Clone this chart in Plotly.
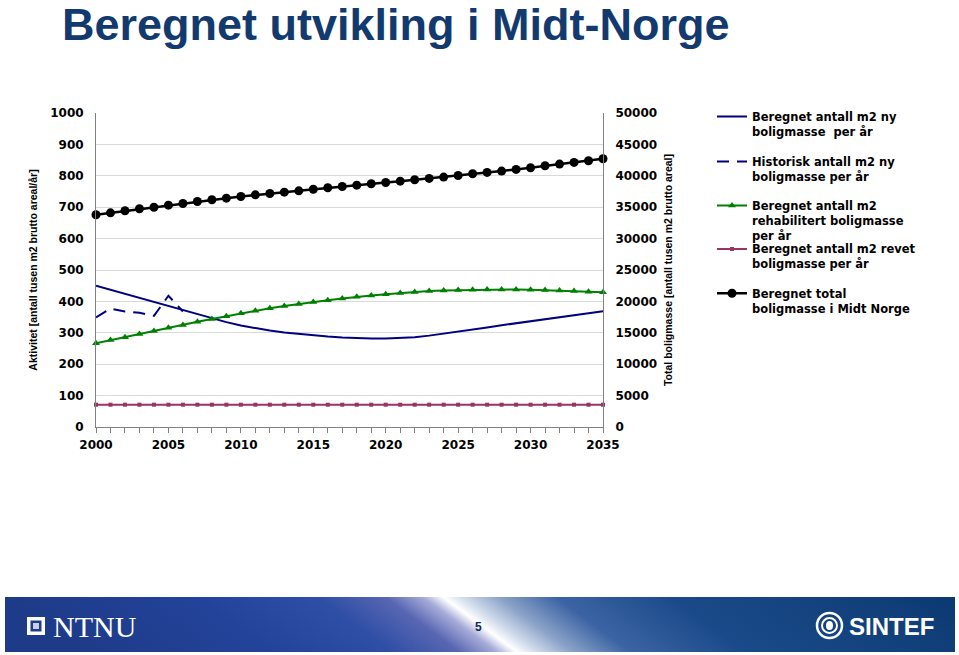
import base64
import plotly.graph_objects as go

# ---------------- data ----------------
years = [2000, 2001, 2002, 2003, 2004, 2005, 2006, 2007, 2008, 2009,
         2010, 2011, 2012, 2013, 2014, 2015, 2016, 2017, 2018, 2019,
         2020, 2021, 2022, 2023, 2024, 2025, 2026, 2027, 2028, 2029,
         2030, 2031, 2032, 2033, 2034, 2035]

beregnet_ny = [450, 437, 424, 410, 397, 384, 371, 358, 346, 334,
               323, 314, 307, 301, 296, 292, 288, 285, 283, 282,
               282, 283, 286, 291, 297, 303, 310, 317, 324, 330,
               336, 343, 349, 355, 362, 369]

hist_years = [2000, 2001, 2002, 2003, 2004, 2005, 2006]
historisk_ny = [349, 377, 368, 364, 354, 418, 368]

rehabilitert = [267, 277, 286, 296, 306, 316, 325, 335, 344, 353,
                362, 370, 378, 385, 392, 398, 404, 409, 415, 419,
                423, 427, 430, 433, 435, 436, 437, 438, 438, 438,
                437, 436, 435, 433, 431, 429]

revet = [71, 71, 71, 71, 71, 71, 71, 71, 71, 71,
         71, 71, 71, 71, 71, 71, 71, 71, 71, 71,
         71, 71, 71, 71, 71, 71, 71, 71, 71, 71,
         71, 71, 71, 71, 71, 71]

total = [33800, 34100, 34430, 34750, 35000, 35320, 35590, 35900, 36180, 36440,
         36700, 36970, 37190, 37390, 37610, 37850, 38090, 38300, 38510, 38730,
         38940, 39150, 39370, 39580, 39790, 40050, 40330, 40540, 40750, 41020,
         41290, 41600, 41860, 42130, 42400, 42720]

names = [
    "Beregnet antall m2 ny<br>boligmasse  per år",
    "Historisk antall m2 ny<br>boligmasse per år",
    "Beregnet antall m2<br>rehabilitert boligmasse<br>per år",
    "Beregnet antall m2 revet<br>boligmasse per år",
    "Beregnet total<br>boligmasse i Midt Norge",
]

title_text = "Beregnet utvikling i Midt-Norge"
y1_title = "Aktivitet [antall tusen m2 brutto areal/år]"
y2_title = "Total boligmasse [antall tusen m2 brutto areal]"

# ---------------- geometry helpers ----------------
W, H = 959, 655
L, R, T, B = 96, 603, 113, 427          # plot area in px
PW, PH = R - L, B - T


def px(xp):
    return (xp - L) / PW


def py(yp):
    return (B - yp) / PH


FONT = "DejaVu Sans"
tick_font = dict(family=FONT, size=12, color="black", weight="bold")
axis_title_font = dict(family="Liberation Sans, Arial", size=10.5, color="black", weight="bold")
LEG_SIZE = 11.5
legend_font = dict(family=FONT, size=LEG_SIZE, color="black", weight="bold")

fig = go.Figure()

fig.add_trace(go.Scatter(x=years, y=beregnet_ny, name=names[0], mode="lines",
                         line=dict(color="#000080", width=2), cliponaxis=False,
                         legend="legend", showlegend=True))
fig.add_trace(go.Scatter(x=hist_years, y=historisk_ny, name=names[1], mode="lines",
                         line=dict(color="#000080", width=2, dash="12px,8px"),
                         cliponaxis=False, legend="legend2", showlegend=True))
fig.add_trace(go.Scatter(x=years, y=rehabilitert, name=names[2], mode="lines+markers",
                         line=dict(color="#008000", width=2),
                         marker=dict(symbol="triangle-up", size=7, color="#008000"),
                         cliponaxis=False, legend="legend3", showlegend=True))
fig.add_trace(go.Scatter(x=years, y=revet, name=names[3], mode="lines+markers",
                         line=dict(color="#993366", width=2),
                         marker=dict(symbol="square", size=4, color="#993366"),
                         cliponaxis=False, legend="legend4", showlegend=True))
fig.add_trace(go.Scatter(x=years, y=total, name=names[4], mode="lines+markers",
                         line=dict(color="black", width=2.5),
                         marker=dict(symbol="circle", size=9, color="black"),
                         yaxis="y2", cliponaxis=False, legend="legend5", showlegend=True))

# legends placed individually
legend_line_centers = [116.5, 161.5, 205.5, 249.0, 293.3]
first_line_offset = 5 + 1.5 + 1.3 * LEG_SIZE / 2
legend_x = px(712)
legends = {}
for i, yc in enumerate(legend_line_centers):
    key = "legend" if i == 0 else f"legend{i+1}"
    legends[key] = dict(x=legend_x, xanchor="left", y=py(yc - first_line_offset), yanchor="top",
                        font=legend_font, valign="top", bgcolor="rgba(0,0,0,0)",
                        borderwidth=0, visible=True)

# footer banner gradient as an svg image
stops = [
    (0.00, "#1d3b88"), (0.20, "#23439a"), (0.33, "#2f4fa6"), (0.40, "#5866b2"),
    (0.44, "#a6acd8"), (0.461, "#ffffff"), (0.48, "#d4deec"), (0.52, "#8aa2c8"),
    (0.58, "#3c64a4"), (0.70, "#1b4a8a"), (1.00, "#0b3a72"),
]
stop_xml = "".join(f'<stop offset="{o}" stop-color="{c}"/>' for o, c in stops)
svg = (
    '<svg xmlns="http://www.w3.org/2000/svg" width="950" height="55" viewBox="0 0 950 55" '
    'preserveAspectRatio="none"><defs><linearGradient id="g" gradientUnits="userSpaceOnUse" '
    'x1="0" y1="0" x2="950" y2="0" gradientTransform="skewX(53.4)">' + stop_xml +
    '</linearGradient></defs><rect width="950" height="55" fill="url(#g)"/></svg>'
)
svg_uri = "data:image/svg+xml;base64," + base64.b64encode(svg.encode()).decode()

images = [dict(source=svg_uri, xref="paper", yref="paper", x=px(5), y=py(597),
               sizex=950 / PW, sizey=55 / PH, xanchor="left", yanchor="top",
               sizing="stretch", layer="above")]

shapes = [
    # NTNU icon
    dict(type="rect", xref="paper", yref="paper", x0=px(27), x1=px(45), y0=py(635), y1=py(617),
         fillcolor="white", line=dict(width=0), layer="above"),
    dict(type="rect", xref="paper", yref="paper", x0=px(30.5), x1=px(41.5), y0=py(631.5), y1=py(620.5),
         fillcolor="#1f3c88", line=dict(width=0), layer="above"),
    dict(type="rect", xref="paper", yref="paper", x0=px(33), x1=px(39), y0=py(629), y1=py(623),
         fillcolor="#c8cfe6", line=dict(width=0), layer="above"),
    # SINTEF icon
    dict(type="circle", xref="paper", yref="paper", x0=px(817), x1=px(842), y0=py(638), y1=py(613),
         fillcolor="rgba(0,0,0,0)", line=dict(color="white", width=2.5), layer="above"),
    dict(type="circle", xref="paper", yref="paper", x0=px(822), x1=px(837), y0=py(633), y1=py(618),
         fillcolor="rgba(0,0,0,0)", line=dict(color="white", width=2), layer="above"),
    dict(type="circle", xref="paper", yref="paper", x0=px(826), x1=px(833), y0=py(630), y1=py(621),
         fillcolor="white", line=dict(width=0), layer="above"),
]

annotations = [
    dict(text="NTNU", xref="paper", yref="paper", x=px(51), y=py(626), xanchor="left",
         yanchor="middle", showarrow=False,
         font=dict(family="Liberation Serif, Times New Roman", size=30, color="white")),
    dict(text="SINTEF", xref="paper", yref="paper", x=px(847), y=py(626), xanchor="left",
         yanchor="middle", showarrow=False,
         font=dict(family="Liberation Sans, Arial", size=24, color="white", weight="bold")),
    dict(text="5", xref="paper", yref="paper", x=px(478), y=py(627), xanchor="center",
         yanchor="middle", showarrow=False,
         font=dict(family="Liberation Sans, Arial", size=12, color="#102a5c", weight="bold")),
]

fig.update_layout(
    width=W, height=H,
    showlegend=True,
    margin=dict(l=L, r=W - R, t=T, b=H - B, pad=0),
    paper_bgcolor="white", plot_bgcolor="white",
    title=dict(text=title_text, xref="container", yref="container", x=62 / W, xanchor="left",
               y=1 - 24 / H, yanchor="middle",
               font=dict(family="Liberation Sans, Arial", size=45, color="#123a6e", weight="bold")),
    xaxis=dict(range=[2000, 2035], tickmode="linear", tick0=2000, dtick=5,
               ticks="outside", ticklen=5, tickcolor="#808080",
               minor=dict(dtick=1, tick0=2000, ticks="outside", ticklen=5, tickcolor="#808080",
                          showgrid=False),
               showline=True, linecolor="#808080", linewidth=1, ticklabelstandoff=2,
               showgrid=False, zeroline=False, tickfont=tick_font),
    yaxis=dict(range=[0, 1000], dtick=100, tick0=0, showgrid=True, gridcolor="#d9d9d9",
               showline=True, linecolor="#808080", linewidth=1, zeroline=False,
               ticks="", ticklabelstandoff=9, tickfont=tick_font,
               title=dict(text=y1_title, font=axis_title_font, standoff=10)),
    yaxis2=dict(range=[0, 50000], dtick=5000, tick0=0, overlaying="y", side="right",
                showgrid=False, showline=True, linecolor="#808080", linewidth=1,
                zeroline=False, ticks="", ticklabelstandoff=9, tickfont=tick_font,
                tickformat="d",
                title=dict(text=y2_title, font=axis_title_font, standoff=8)),
    images=images, shapes=shapes, annotations=annotations,
    **legends,
)

fig.write_html("out.html")
